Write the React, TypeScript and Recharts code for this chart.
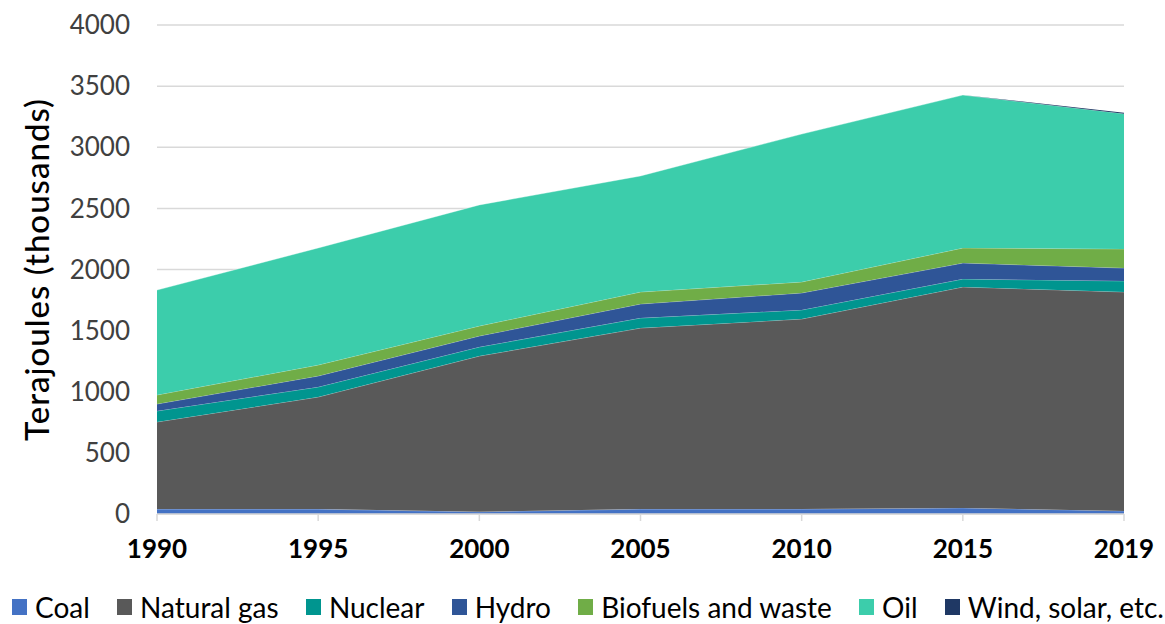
import { AreaChart, Area, XAxis, YAxis, CartesianGrid } from "recharts";

// Valori (mii de TJ)
const years = ["1990", "1995", "2000", "2005", "2010", "2015", "2019"];
const coal = [40, 40, 18, 40, 40, 50, 25];
const naturalGas = [713, 917, 1274, 1481, 1555, 1807, 1791];
const nuclear = [90, 82, 74, 82, 74, 65, 90];
const hydro = [57, 90, 90, 115, 139, 131, 106];
const biofuels = [74, 90, 82, 98, 90, 123, 156];
const oil = [858, 957, 990, 949, 1210, 1251, 1107];
const wind = [0, 0, 0, 0, 0, 1, 8];
const yTicks = [0, 500, 1000, 1500, 2000, 2500, 3000, 3500, 4000];

const SERIES = [
  { key: "coal", name: "Coal", color: "#4472C4", values: coal },
  { key: "gas", name: "Natural gas", color: "#595959", values: naturalGas },
  { key: "nuclear", name: "Nuclear", color: "#00958F", values: nuclear },
  { key: "hydro", name: "Hydro", color: "#2F5597", values: hydro },
  { key: "bio", name: "Biofuels and waste", color: "#70AD47", values: biofuels },
  { key: "oil", name: "Oil", color: "#3CCDAB", values: oil },
  { key: "wind", name: "Wind, solar, etc.", color: "#1F3864", values: wind },
];

const data = years.map((year, i) => {
  const row: Record<string, string | number> = { year };
  SERIES.forEach((s) => { row[s.key] = s.values[i]; });
  return row;
});

const FONT = "Lato, 'Noto Sans', sans-serif";

export default function App() {
  return (
    <div style={{ position: "absolute", left: 0, top: 0, width: 1165, height: 624, fontFamily: FONT, background: "#fff" }}>
      <AreaChart width={1165} height={624} data={data} margin={{ top: 25, right: 41, left: 17, bottom: 60 }}>
        <CartesianGrid vertical={false} stroke="#d9d9d9" strokeWidth={1.5} />
        <XAxis
          dataKey="year"
          stroke="#d9d9d9"
          strokeWidth={1.5}
          tickSize={7}
          tickMargin={19}
          height={50}
          interval={0}
          tick={{ fill: "#000", fontSize: 26, fontWeight: 700, fontFamily: FONT }}
        />
        <YAxis
          width={140}
          domain={[0, 4000]}
          ticks={yTicks}
          axisLine={false}
          tickLine={false}
          tickSize={0}
          tickMargin={27}
          tick={{ fill: "#404040", fontSize: 26, fontFamily: FONT }}
          label={{ value: "Terajoules (thousands)", angle: -90, position: "center", dx: -50, style: { fill: "#000", fontSize: 33, fontWeight: 500, letterSpacing: 1, fontFamily: FONT, textAnchor: "middle" } }}
        />
        {SERIES.map((s) => (
          <Area
            key={s.key}
            type="linear"
            dataKey={s.key}
            name={s.name}
            stackId="1"
            fill={s.color}
            fillOpacity={1}
            stroke={s.key === "wind" ? s.color : "#ffffff"}
            strokeOpacity={s.key === "wind" ? 1 : 0.35}
            strokeWidth={s.key === "wind" ? 0 : 1}
            isAnimationActive={false}
          />
        ))}
      </AreaChart>
      <div style={{ position: "absolute", left: 12, top: 590, width: 1152, display: "flex", justifyContent: "space-between", alignItems: "center", fontSize: 28, lineHeight: "34px", color: "#000" }}>
        {SERIES.map((s) => (
          <div key={s.key} style={{ display: "flex", alignItems: "center" }}>
            <span style={{ display: "inline-block", width: 15, height: 16, background: s.color, marginRight: 8 }} />
            <span>{s.name}</span>
          </div>
        ))}
      </div>
    </div>
  );
}
